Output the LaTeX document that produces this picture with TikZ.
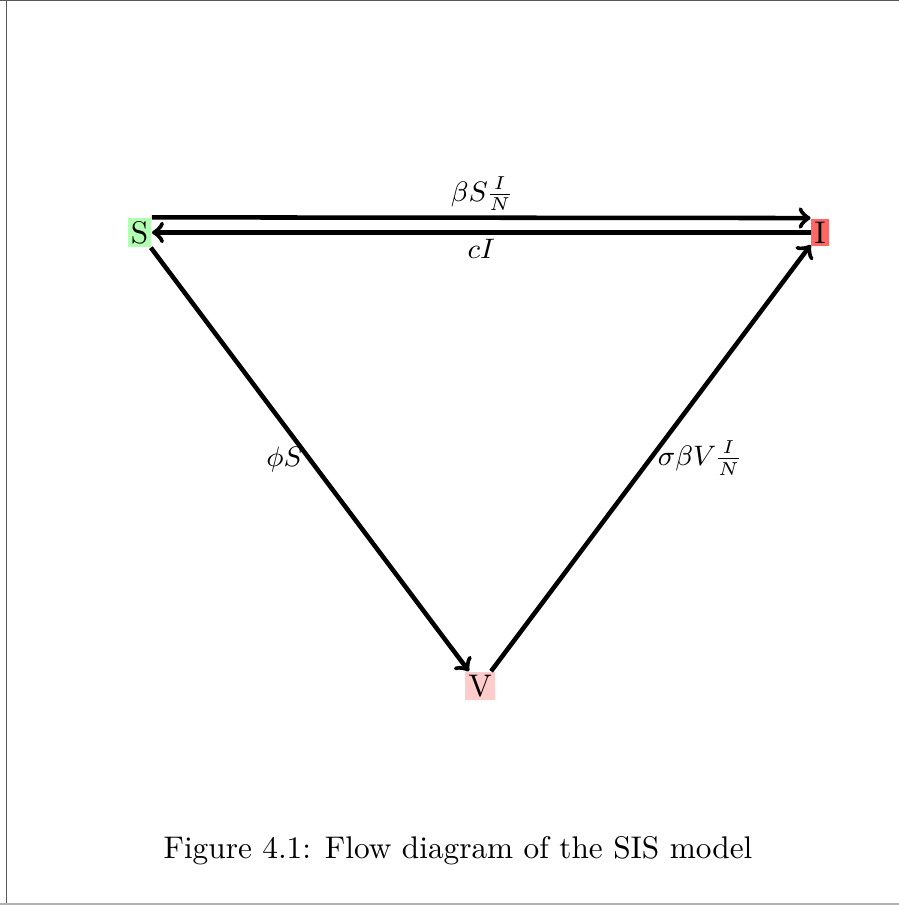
\documentclass[tikz,border=0pt]{standalone}
\begin{document}
\begin{tikzpicture}[x=0.3195pt,y=-0.3195pt,
  box/.style={inner sep=1pt},
  flow/.style={->, line width=1.45pt},
  lab/.style={font=\small, inner sep=1.5pt}]
\useasboundingbox (0,0) rectangle (899,905);
\draw[black!65, line width=0.5pt] (0,0.6) -- (899,0.6);
\draw[black!65, line width=0.6pt] (6.5,0) -- (6.5,905);
\draw[black!30, line width=0.5pt] (0,903.8) -- (899,903.8);
\node[box, fill=green!30] (S) at (139.5,232.5) {S};
\node[box, fill=red!60] (I) at (820,232.5) {I};
\node[box, fill=red!20] (V) at (480,686) {V};
\draw[flow] (S.north east) -- node[lab, above]{$\nulldelimiterspace=0.6pt\beta S\frac{I}{N}$} (I.north west);
\draw[flow] (I) -- node[lab, below]{$cI$} (S);
\draw[flow] (S) -- node[lab, left]{$\phi S$} (V);
\draw[flow] (V) -- node[lab, right]{$\nulldelimiterspace=0.6pt\sigma\beta V\frac{I}{N}$} (I);
\node[anchor=base] (cap) at (458,858) {Figure 4.1: Flow diagram of the SIS model};
\end{tikzpicture}
\end{document}
